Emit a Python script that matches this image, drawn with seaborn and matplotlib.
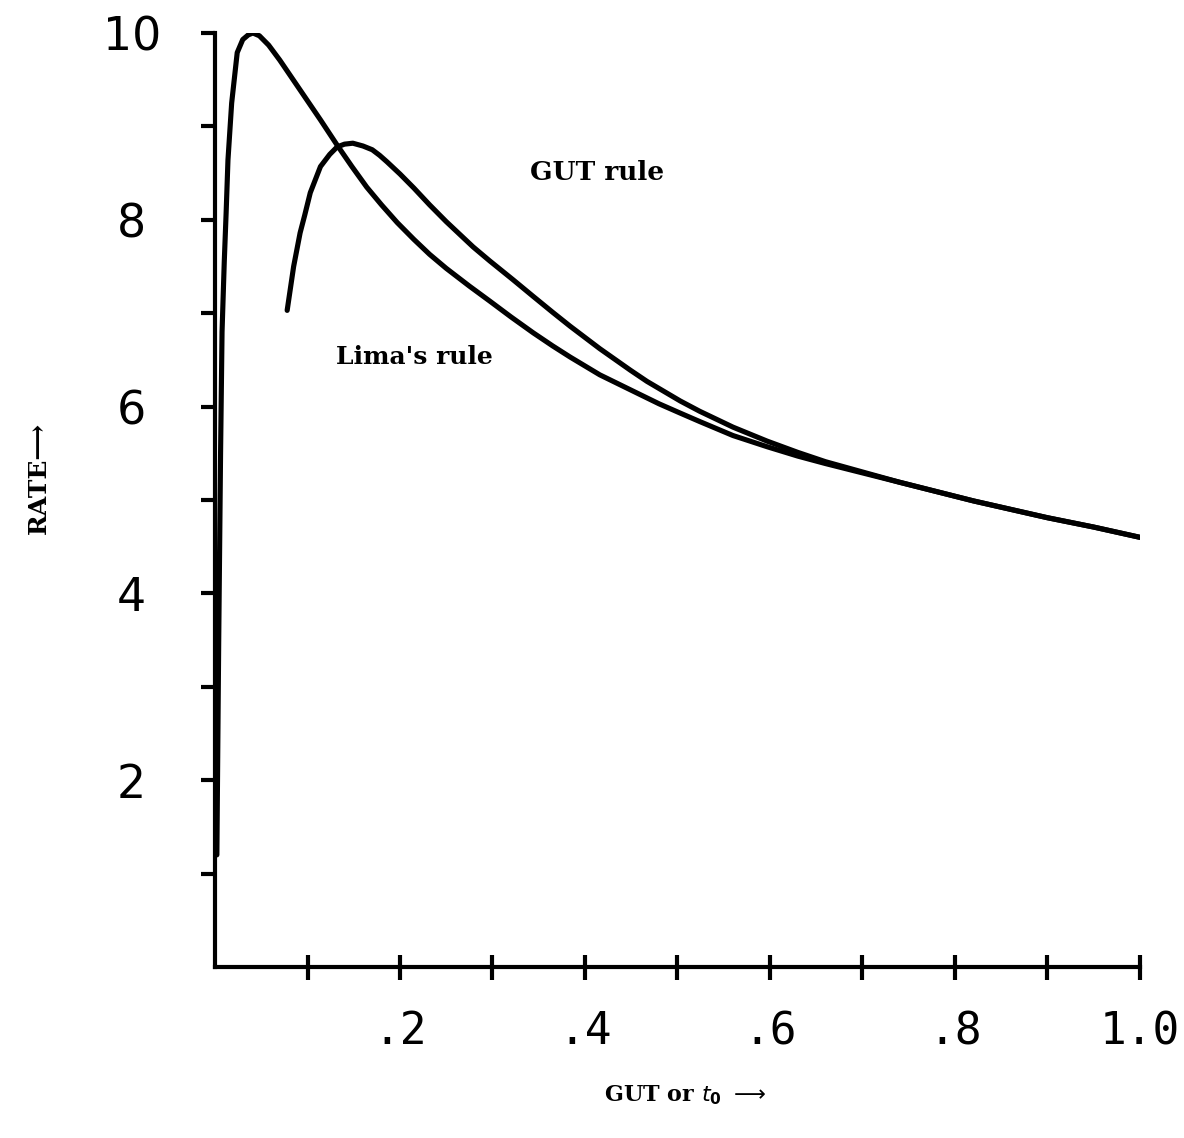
import numpy as np
import matplotlib
matplotlib.use("Agg")
import matplotlib.pyplot as plt
import seaborn as sns
import pandas as pd

# Data ===================================================================================
# curve with the tall, early peak
sharp_x = [0.002, 0.004, 0.006, 0.0076, 0.010, 0.012, 0.014, 0.018, 0.024, 0.030, 0.036,
           0.041, 0.048, 0.058, 0.070, 0.081, 0.092, 0.103, 0.114, 0.132, 0.148, 0.164,
           0.180, 0.197, 0.215, 0.232, 0.250, 0.275, 0.297, 0.320, 0.344, 0.365, 0.384,
           0.416, 0.449, 0.480, 0.503, 0.524, 0.560, 0.597, 0.630, 0.660, 0.700, 0.740,
           0.780, 0.820, 0.860, 0.900, 0.950, 1.000]
sharp_y = [1.2, 3.5, 5.5, 6.8, 7.55, 8.07, 8.64, 9.25, 9.79, 9.93, 9.98,
           10.0, 9.97, 9.87, 9.71, 9.55, 9.39, 9.23, 9.07, 8.80, 8.57, 8.35,
           8.16, 7.97, 7.79, 7.63, 7.48, 7.29, 7.13, 6.96, 6.79, 6.65, 6.53,
           6.34, 6.18, 6.03, 5.93, 5.84, 5.69, 5.57, 5.47, 5.39, 5.29, 5.19,
           5.09, 4.99, 4.90, 4.81, 4.71, 4.60]

# curve starting at 7 and peaking near 8.8
broad_x = [0.078, 0.085, 0.092, 0.097, 0.103, 0.114, 0.124, 0.132, 0.140, 0.149, 0.160,
           0.170, 0.178, 0.186, 0.200, 0.215, 0.232, 0.250, 0.279, 0.297, 0.322, 0.344,
           0.365, 0.384, 0.416, 0.449, 0.467, 0.503, 0.524, 0.560, 0.597, 0.630, 0.660,
           0.700, 0.740, 0.780, 0.820, 0.860, 0.900, 0.950, 1.000]
broad_y = [7.03, 7.50, 7.86, 8.05, 8.29, 8.57, 8.70, 8.78, 8.81, 8.82, 8.79,
           8.75, 8.69, 8.62, 8.49, 8.34, 8.16, 7.98, 7.71, 7.56, 7.36, 7.18,
           7.01, 6.86, 6.62, 6.39, 6.27, 6.06, 5.95, 5.78, 5.63, 5.51, 5.41,
           5.30, 5.19, 5.09, 4.99, 4.90, 4.81, 4.71, 4.60]

x_ticks = [0.1, 0.2, 0.3, 0.4, 0.5, 0.6, 0.7, 0.8, 0.9, 1.0]
x_tick_labels = ["", ".2", "", ".4", "", ".6", "", ".8", "", "1.0"]
y_ticks = [1, 2, 3, 4, 5, 6, 7, 8, 9, 10]
y_tick_labels = ["", "2", "", "4", "", "6", "", "8", "", "10"]

df = pd.concat([
    pd.DataFrame({"t0": sharp_x, "rate": sharp_y, "curve": "sharp"}),
    pd.DataFrame({"t0": broad_x, "rate": broad_y, "curve": "broad"}),
])

# Figure ==================================================================================
sns.set_style("ticks")
plt.rcParams["font.family"] = ["DejaVu Sans"]
plt.rcParams["text.color"] = "black"

fig = plt.figure(figsize=(11.84, 11.38), dpi=100)
ax = fig.add_axes([0.1816, 0.1503, 0.7812, 0.8207])

sns.lineplot(data=df, x="t0", y="rate", units="curve", estimator=None, sort=False,
             color="black", linewidth=3.7, ax=ax, legend=False,
             solid_joinstyle="round", solid_capstyle="round")

ax.set_xlim(0, 1.0)
ax.set_ylim(0, 10)
sns.despine(ax=ax)
for s in ["left", "bottom"]:
    ax.spines[s].set_linewidth(3)
    ax.spines[s].set_color("black")

ax.set_xticks(x_ticks)
ax.set_xticklabels(x_tick_labels, family="DejaVu Sans Mono", fontsize=32)
ax.set_yticks(y_ticks)
ax.set_yticklabels(y_tick_labels, family="DejaVu Sans", fontsize=33, ha="center")
ax.tick_params(axis="x", direction="inout", length=18, width=3, pad=22, colors="black")
ax.tick_params(axis="y", direction="out", length=10, width=3, pad=50, colors="black")
ax.set_xlabel("")
ax.set_ylabel("")

lbl = dict(family=["DejaVu Serif", "DejaVu Sans"], fontweight="bold", fontsize=19,
           color="black")
ax.text(0.413, 8.51, "GUT rule", ha="center", va="center", **lbl)
ax.text(0.216, 6.53, "Lima's rule", ha="center", va="center", **dict(lbl, fontsize=18))

fig.text(0.033, 0.58, "RATE\u27f6", rotation=90, ha="center", va="center",
         **dict(lbl, fontsize=18))
fig.text(0.5785, 0.038, r"GUT or $\mathbf{\mathit{t}_0}$ $\longrightarrow$",
         ha="center", va="center", **dict(lbl, fontsize=16))

plt.savefig("out.png", dpi=100)
